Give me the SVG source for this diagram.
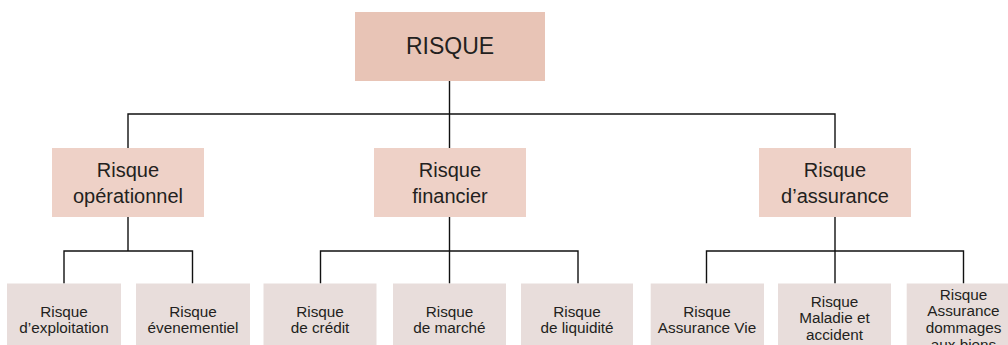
<svg xmlns="http://www.w3.org/2000/svg" width="1008" height="345" viewBox="0 0 1008 345">
<style>
.l1{fill:#E8C4B6}
.l2{fill:#EED1C7}
.l3{fill:#E8DDDB}
text{font-family:"Liberation Sans",Arial,sans-serif;fill:#231F20;text-anchor:middle}
.t1{font-size:23px}
.t2{font-size:20px}
.t3{font-size:15.3px}
.c{fill:none;stroke:#111;stroke-width:1.4}
</style>
<rect width="1008" height="345" fill="#fff"/>
<g id="connectors" class="c">
<path d="M449.5 81V114M128 148V114H835V148M449.5 114V148"/>
<path d="M128 217V251M64 283.5V251H192.5V283.5"/>
<path d="M449.5 217V283.5M320.5 283.5V251H578V283.5"/>
<path d="M835 217V283.5M706.5 283.5V251H963.5V283.5"/>
</g>
<g id="risque"><rect class="l1" x="355" y="12" width="190" height="69"/><text class="t1" x="450" y="54">RISQUE</text></g>
<g id="operationnel"><rect class="l2" x="52" y="148" width="152" height="69"/><text class="t2" x="128" y="177">Risque</text><text class="t2" x="128" y="202.7">opérationnel</text></g>
<g id="financier"><rect class="l2" x="374" y="148" width="152" height="69"/><text class="t2" x="450" y="177">Risque</text><text class="t2" x="450" y="202.7">financier</text></g>
<g id="assurance"><rect class="l2" x="759" y="148" width="152" height="69"/><text class="t2" x="835" y="177">Risque</text><text class="t2" x="835" y="202.7">d’assurance</text></g>
<g id="exploitation"><rect class="l3" x="7" y="283.5" width="114" height="70"/><text class="t3" x="64" y="316.5">Risque</text><text class="t3" x="64" y="333">d’exploitation</text></g>
<g id="evenementiel"><rect class="l3" x="136" y="283.5" width="114" height="70"/><text class="t3" x="193" y="316.5">Risque</text><text class="t3" x="193" y="333">évenementiel</text></g>
<g id="credit"><rect class="l3" x="263.5" y="283.5" width="113" height="70"/><text class="t3" x="320" y="316.5">Risque</text><text class="t3" x="320" y="333">de crédit</text></g>
<g id="marche"><rect class="l3" x="393" y="283.5" width="113" height="70"/><text class="t3" x="449.5" y="316.5">Risque</text><text class="t3" x="449.5" y="333">de marché</text></g>
<g id="liquidite"><rect class="l3" x="521" y="283.5" width="112" height="70"/><text class="t3" x="577" y="316.5">Risque</text><text class="t3" x="577" y="333">de liquidité</text></g>
<g id="vie"><rect class="l3" x="650.7" y="283.5" width="113.3" height="70"/><text class="t3" x="707" y="316.5">Risque</text><text class="t3" x="707" y="333">Assurance Vie</text></g>
<g id="maladie"><rect class="l3" x="778" y="283.5" width="113" height="70"/><text class="t3" x="834.5" y="306.5">Risque</text><text class="t3" x="834.5" y="323">Maladie et</text><text class="t3" x="834.5" y="339.5">accident</text></g>
<g id="dommages"><rect class="l3" x="906.7" y="283.5" width="114" height="70"/><text class="t3" x="963.5" y="299.5">Risque</text><text class="t3" x="963.5" y="316.3">Assurance</text><text class="t3" x="963.5" y="333.1">dommages</text><text class="t3" x="963.5" y="349.9">aux biens</text></g>
</svg>
